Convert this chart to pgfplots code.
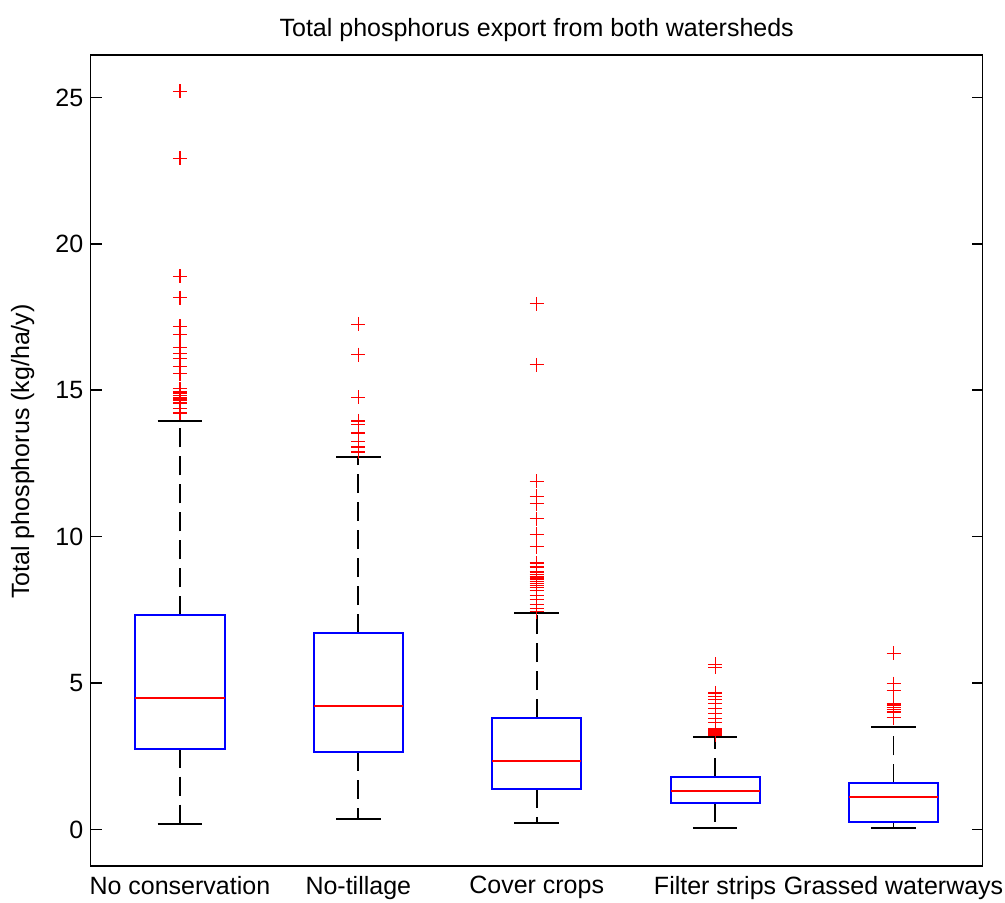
\documentclass[border=0pt]{standalone}
\usepackage{fontspec}
\setmainfont{Liberation Sans}
\usepackage{pgfplots}
\pgfplotsset{compat=1.18}
\usepgfplotslibrary{statistics}
\definecolor{mblue}{RGB}{0,0,255}
\definecolor{mred}{RGB}{255,0,0}
\pgfplotsset{outl/.style={only marks, mark=+, mark size=3.5pt, draw=mred, color=mred, mark options={draw=mred, solid, line width=0.6pt}}}
\begin{document}
\begin{tikzpicture}
\begin{axis}[
  scale only axis,
  width=446pt, height=405.5pt,
  xmin=0.5, xmax=5.5,
  ymin=-1.25, ymax=26.45,
  xtick={1,2,3,4,5},
  xticklabels={No conservation,No-tillage,Cover crops,Filter strips,Grassed waterways},
  ytick={0,5,10,15,20,25},
  tick align=inside,
  major tick length=5.5pt,
  xtick style={draw=none},
  ytick style={line width=0.75pt, black},
  axis line style={line width=0.75pt},
  every axis/.append style={line width=0.75pt},
  /pgf/number format/assume math mode=true,
  tick label style={font=\fontsize{12.5}{15}\selectfont},
  xticklabel style={yshift=-1.5pt},
  ylabel={Total phosphorus (kg/ha/y)},
  every axis y label/.style={at={(axis description cs:0,0.511)}, xshift=-34pt, rotate=90, anchor=center, font=\fontsize{12.5}{15}\selectfont},
  title={Total phosphorus export from both watersheds},
  every axis title/.style={at={(axis description cs:0.5,1)}, yshift=12.5pt, anchor=center, font=\fontsize{12.5}{15}\selectfont},
  clip=false,
  boxplot/draw direction=y,
  boxplot/box extend=0.5,
  boxplot/whisker extend=0.25,
  boxplot/every box/.style={draw=mblue, line width=1pt, fill=none},
  boxplot/every median/.style={draw=mred, line width=1pt},
  boxplot/draw/lower whisker/.code={
    \draw[black, line width=0.85pt, dash pattern=on 9.5pt off 4.5pt]
      (boxplot box cs:\pgfplotsboxplotvalue{lower quartile},0.5) -- (boxplot box cs:\pgfplotsboxplotvalue{lower whisker},0.5);
    \draw[black, line width=0.9pt]
      (boxplot whisker cs:\pgfplotsboxplotvalue{lower whisker},0) -- (boxplot whisker cs:\pgfplotsboxplotvalue{lower whisker},1);
  },
  boxplot/draw/upper whisker/.code={
    \draw[black, line width=0.85pt, dash pattern=on 9.5pt off 4.5pt]
      (boxplot box cs:\pgfplotsboxplotvalue{upper quartile},0.5) -- (boxplot box cs:\pgfplotsboxplotvalue{upper whisker},0.5);
    \draw[black, line width=0.9pt]
      (boxplot whisker cs:\pgfplotsboxplotvalue{upper whisker},0) -- (boxplot whisker cs:\pgfplotsboxplotvalue{upper whisker},1);
  },
]
% boxes
\addplot[boxplot prepared={draw position=1, lower whisker=0.19, lower quartile=2.76, median=4.50, upper quartile=7.31, upper whisker=13.95}] coordinates {};
\addplot[boxplot prepared={draw position=2, lower whisker=0.35, lower quartile=2.64, median=4.21, upper quartile=6.70, upper whisker=12.72}] coordinates {};
\addplot[boxplot prepared={draw position=3, lower whisker=0.22, lower quartile=1.38, median=2.33, upper quartile=3.80, upper whisker=7.39}] coordinates {};
\addplot[boxplot prepared={draw position=4, lower whisker=0.05, lower quartile=0.89, median=1.30, upper quartile=1.80, upper whisker=3.16}] coordinates {};
\addplot[boxplot prepared={draw position=5, lower whisker=0.05, lower quartile=0.26, median=1.10, upper quartile=1.57, upper whisker=3.50}] coordinates {};
% outliers
\addplot[outl] coordinates {
 (1,25.21) (1,22.92) (1,18.89) (1,18.16) (1,17.19) (1,16.89) (1,16.45) (1,16.25) (1,16.07)
 (1,15.81) (1,15.56) (1,15.05) (1,14.94) (1,14.88) (1,14.82) (1,14.76) (1,14.70) (1,14.65)
 (1,14.59) (1,14.54) (1,14.37) (1,14.22)};
\addplot[outl] coordinates {
 (2,17.25) (2,16.22) (2,14.76) (2,13.95) (2,13.83) (2,13.54) (2,13.26) (2,13.06) (2,12.89)};
\addplot[outl] coordinates {
 (3,17.95) (3,15.87) (3,11.89) (3,11.38) (3,11.13) (3,10.61) (3,10.08) (3,9.65) (3,9.10) (3,8.96)
 (3,8.79) (3,8.70) (3,8.62) (3,8.55) (3,8.47) (3,8.40) (3,8.32) (3,8.25) (3,8.17)
 (3,8.00) (3,7.85) (3,7.69) (3,7.54) (3,7.43)};
\addplot[outl] coordinates {
 (4,5.64) (4,5.53) (4,4.66) (4,4.55) (4,4.44) (4,4.30) (4,4.13) (4,3.96) (4,3.79) (4,3.64)
 (4,3.45) (4,3.40) (4,3.37) (4,3.34) (4,3.30) (4,3.26) (4,3.22)};
\addplot[outl] coordinates {
 (5,6.01) (5,4.98) (5,4.75) (5,4.28) (5,4.22) (5,4.16) (5,4.10) (5,4.04) (5,3.98) (5,3.82)};
\coordinate (SW) at (rel axis cs:0,0);
\coordinate (NE) at (rel axis cs:1,1);
\end{axis}
\pgfresetboundingbox
\path ([shift={(-45.35pt,-18.5pt)}]SW) rectangle ([shift={(11.15pt,27.5pt)}]NE);
\end{tikzpicture}
\end{document}
